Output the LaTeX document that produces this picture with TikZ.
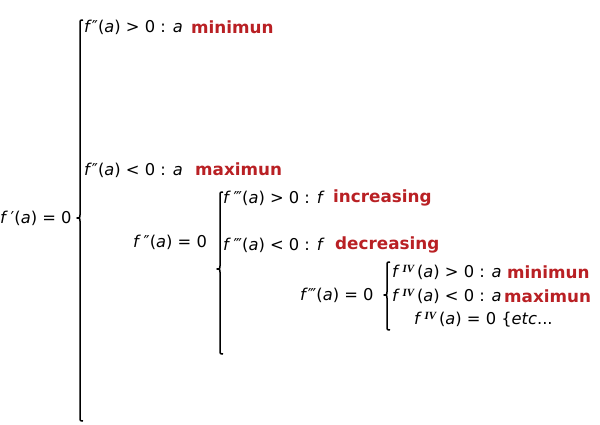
\documentclass[tikz,border=0pt]{standalone}
\usepackage{fontspec}
\setmainfont{DejaVu Sans}
\newfontfamily\romfont{Liberation Serif}
\definecolor{redt}{RGB}{185,32,36}
\newcommand\ff{\textit{f}}
\newcommand\va{\textit{a}}
\newcommand\fIV{\ff\,{\fontsize{11}{11}\selectfont\raisebox{0.45em}{\romfont\bfseries\itshape IV}}\,}
\begin{document}
\begin{tikzpicture}[x=1pt,y=-1pt,
  lbl/.style={anchor=west, inner sep=0pt, font=\fontsize{16.3}{18}\selectfont},
  redlbl/.style={anchor=west, inner sep=0pt, text=redt, font=\fontsize{16.8}{18}\selectfont\bfseries},
  bracestyle/.style={line width=1.5pt, line join=round}]
\useasboundingbox (0,0) rectangle (600,424);
% main brace
\draw[bracestyle] (83,20) .. controls (80,20) .. (80,23) -- (80,215) .. controls (80,218) .. (77,218) .. controls (80,218) .. (80,221) -- (80,418) .. controls (80,421) .. (83,421);
\node[lbl] (r) at (0,218) {\ff\,′(\va) = 0};
\node[lbl] (c1) at (84,27) {\ff″(\va) > 0 : \va};
\node[redlbl] (m1) at (191,27) {minimun};
\node[lbl] (c2) at (84,170) {\ff″(\va) < 0 : \va};
\node[redlbl] (m2) at (195,169) {maximun};
\node[lbl] (c3) at (133,242) {\ff\,″(\va) = 0};
% second brace
\draw[bracestyle] (223,192) .. controls (220,192) .. (220,195) -- (220,266) .. controls (220,269) .. (217,269) .. controls (220,269) .. (220,272) -- (220,351) .. controls (220,354) .. (223,354);
\node[lbl] (d1) at (223,198) {\ff\,‴(\va) > 0 : \ff};
\node[redlbl] (i1) at (333,198) {increasing};
\node[lbl] (d2) at (223,245) {\ff\,‴(\va) < 0 : \ff};
\node[redlbl] (i2) at (335,245) {decreasing};
\node[lbl] (d3) at (300,295) {\ff‴(\va) = 0};
% third brace
\draw[bracestyle] (390,262) .. controls (387,262) .. (387,265) -- (387,292) .. controls (387,295) .. (384,295) .. controls (387,295) .. (387,298) -- (387,327) .. controls (387,330) .. (390,330);
\node[lbl] (e1) at (392,272) {\fIV(\va) > 0 : \va};
\node[redlbl] (n1) at (507,272) {minimun};
\node[lbl] (e2) at (392,296) {\fIV(\va) < 0 : \va};
\node[redlbl] (n2) at (504,296) {maximun};
\node[lbl] (e3) at (414,320) {\fIV(\va) = 0 \{\textit{etc}...};
\end{tikzpicture}
\end{document}
